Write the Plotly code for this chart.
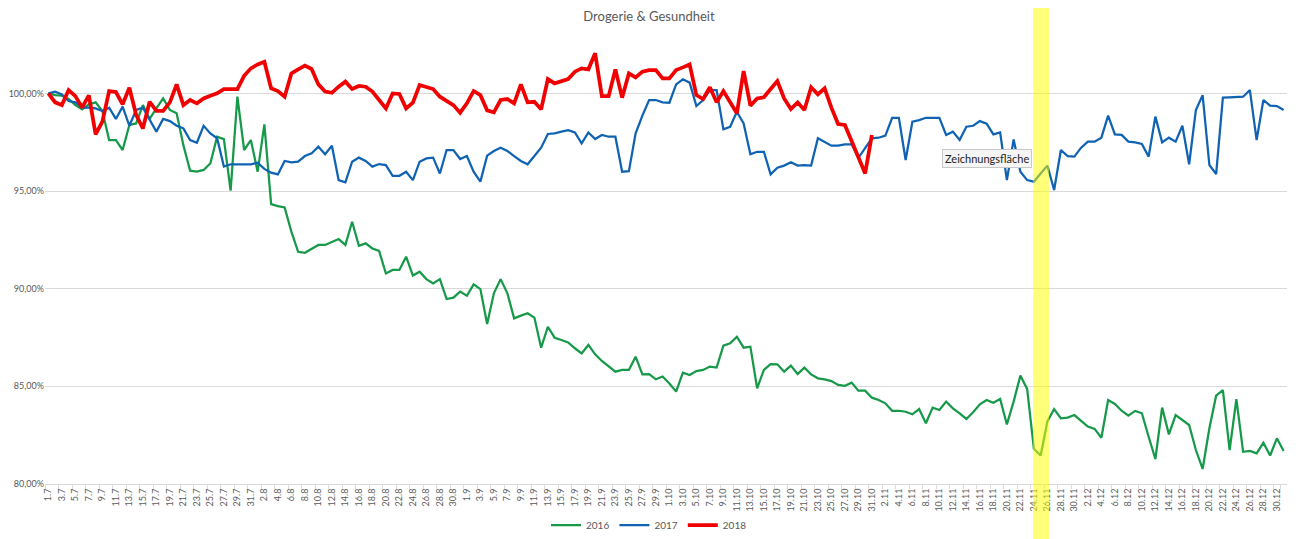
import plotly.graph_objects as go

# Categories: daily dates 1.7 - 31.12
months = [(7, 31), (8, 31), (9, 30), (10, 31), (11, 30), (12, 31)]
dates = [f"{d}.{m}" for m, n in months for d in range(1, n + 1)]

# Values in percent
v2016 = [
    100.0, 99.91, 99.88, 99.71, 99.4, 99.18, 99.44, 99.54, 99.1, 97.61, 97.61, 97.1, 98.38, 98.46, 99.4, 98.69,
    99.23, 99.74, 99.15, 98.98, 97.35, 96.04, 95.99, 96.08, 96.42, 97.78, 97.66, 95.02, 99.83, 97.1, 97.61,
    95.99, 98.41, 94.33, 94.23, 94.16, 92.92, 91.89, 91.84, 92.06, 92.24, 92.24, 92.41, 92.54, 92.24, 93.43,
    92.2, 92.32, 92.06, 91.93, 90.78, 90.96, 90.96, 91.64, 90.67, 90.87, 90.49, 90.27, 90.49, 89.47, 89.54,
    89.85, 89.64, 90.22, 89.98, 88.19, 89.76, 90.49, 89.76, 88.48, 88.62, 88.74, 88.52, 86.98, 88.05, 87.49,
    87.37, 87.25, 86.95, 86.69, 87.12, 86.64, 86.3, 86.01, 85.75, 85.84, 85.84, 86.52, 85.61, 85.63, 85.36, 85.5,
    85.15, 84.73, 85.7, 85.58, 85.78, 85.84, 86.01, 85.96, 87.08, 87.2, 87.54, 86.98, 87.03, 84.9, 85.84,
    86.14, 86.13, 85.75, 86.06, 85.63, 85.96, 85.61, 85.41, 85.36, 85.27, 85.07, 85.03, 85.19, 84.78, 84.78,
    84.42, 84.3, 84.13, 83.75, 83.75, 83.7, 83.57, 83.84, 83.11, 83.91, 83.79, 84.22, 83.87, 83.62, 83.33,
    83.67, 84.08, 84.3, 84.16, 84.35, 83.05, 84.22, 85.55, 84.87, 81.8, 81.46, 83.2, 83.84, 83.36, 83.4, 83.53,
    83.23, 82.94, 82.82, 82.37, 84.3, 84.1, 83.75, 83.5, 83.74, 83.62, 82.42, 81.28, 83.91, 82.54, 83.53,
    83.28, 83.02, 81.74, 80.77, 82.85, 84.52, 84.81, 81.74, 84.35, 81.65, 81.69, 81.57, 82.11, 81.46, 82.34, 81.69,
]

v2017 = [
    100.0, 100.09, 99.95, 99.61, 99.54, 99.27, 99.27, 99.23, 99.1, 99.27, 98.69, 99.32, 98.34, 99.15, 99.27,
    98.63, 98.04, 98.69, 98.58, 98.34, 98.21, 97.61, 97.47, 98.34, 97.95, 97.7, 96.25, 96.37, 96.37, 96.37, 96.37,
    96.45, 96.13, 95.94, 95.85, 96.54, 96.47, 96.5, 96.79, 96.93, 97.27, 96.88, 97.32, 95.56, 95.44, 96.5,
    96.71, 96.54, 96.25, 96.38, 96.33, 95.78, 95.78, 95.99, 95.56, 96.5, 96.67, 96.71, 95.9, 97.1, 97.1,
    96.64, 96.79, 95.99, 95.48, 96.81, 97.05, 97.22, 97.05, 96.79, 96.54, 96.37, 96.79, 97.22, 97.92, 97.95,
    98.04, 98.12, 98.0, 97.44, 98.0, 97.66, 97.87, 97.78, 97.78, 95.99, 96.02, 97.95, 98.86, 99.66, 99.66, 99.54,
    99.52, 100.46, 100.72, 100.55, 99.35, 99.66, 100.17, 100.17, 98.16, 98.29, 99.06, 98.46, 96.88, 97.01,
    97.01, 95.85, 96.19, 96.3, 96.47, 96.3, 96.33, 96.3, 97.7, 97.53, 97.32, 97.32, 97.39, 97.39, 96.7, 97.2,
    97.7, 97.73, 97.84, 98.75, 98.75, 96.59, 98.55, 98.63, 98.75, 98.75, 98.75, 97.87, 98.04, 97.61, 98.29,
    98.34, 98.58, 98.45, 97.9, 98.0, 95.56, 97.64, 95.99, 95.56, 95.48, 95.9, 96.3, 95.05, 97.1, 96.79, 96.76,
    97.22, 97.53, 97.53, 97.73, 98.86, 97.9, 97.87, 97.53, 97.49, 97.41, 96.76, 98.81, 97.49, 97.73, 97.53,
    98.34, 96.37, 99.15, 99.91, 96.33, 95.87, 99.78, 99.8, 99.83, 99.83, 100.17, 97.61, 99.66, 99.37, 99.35, 99.15,
]

v2018 = [
    100.0, 99.54, 99.4, 100.17, 99.86, 99.28, 99.9, 97.9, 98.55, 100.12, 100.07, 99.44, 100.29, 98.9, 98.2,
    99.57, 99.1, 99.1, 99.54, 100.46, 99.4, 99.66, 99.49, 99.74, 99.88, 100.0, 100.22, 100.22, 100.22, 100.9, 101.28,
    101.48, 101.62, 100.26, 100.12, 99.83, 101.02, 101.23, 101.42, 101.25, 100.46, 100.09, 100.03, 100.34,
    100.6, 100.22, 100.38, 100.34, 100.09, 99.66, 99.23, 100.0, 99.97, 99.23, 99.52, 100.43, 100.34, 100.22,
    99.83, 99.61, 99.4,
    99.01, 99.49, 100.12, 99.91, 99.13, 99.03, 99.66, 99.71, 99.49, 100.46, 99.54, 99.57, 99.18, 100.73,
    100.51, 100.6, 100.73, 101.11, 101.28, 101.23, 102.05, 99.86, 99.86, 101.23, 99.78, 101.02, 100.82,
    101.11, 101.19, 101.19, 100.77,
    100.77, 101.19, 101.33, 101.48, 99.91, 99.71, 100.31, 99.54, 100.12, 99.57, 98.98, 101.14, 99.37, 99.74,
    99.8, 100.22, 100.63, 99.74, 99.2, 99.54, 99.15, 100.31, 99.95, 100.26, 99.27, 98.43, 98.38, 97.56, 96.76,
    95.9, 97.87,
]

series_names = ["2016", "2017", "2018"]
y_ticks = [80, 85, 90, 95, 100]
y_ticktext = ["80,00%", "85,00%", "90,00%", "95,00%", "100,00%"]
title_text = "Drogerie & Gesundheit"
highlight = ("24.11", "26.11")

GRAY = "#595959"
FONT = "Lato, 'Open Sans', sans-serif"

# the page body adds an 8px margin, so the figure is 8px smaller than the window
W, H = 1291, 531
ML, MR, MT, MB = 37, 12, 17, 55
PH = H - MT - MB

fig = go.Figure()
fig.add_trace(go.Scatter(x=dates[:len(v2016)], y=v2016, mode="lines", name=series_names[0],
                         line=dict(color="#17994A", width=2.25)))
fig.add_trace(go.Scatter(x=dates[:len(v2017)], y=v2017, mode="lines", name=series_names[1],
                         line=dict(color="#1063B2", width=2.25)))
fig.add_trace(go.Scatter(x=dates[:len(v2018)], y=v2018, mode="lines", name=series_names[2],
                         line=dict(color="#F00000", width=3.75)))

# yellow highlight band (full height)
i0 = dates.index(highlight[0])
i1 = dates.index(highlight[1])
fig.add_shape(type="rect", xref="x", yref="paper", x0=i0 - 0.12, x1=i1 + 0.25,
              y0=-0.2, y1=1.1, fillcolor="rgba(255,255,0,0.52)", line=dict(width=0), layer="above")

# sheet edge line at right
fig.add_shape(type="line", xref="paper", yref="paper", x0=1.008, x1=1.008, y0=-0.2, y1=1.1,
              line=dict(color="#D4D4D4", width=1))

# tooltip box
fig.add_annotation(text="Zeichnungsfläche", xref="paper", yref="paper", x=0.7585, y=0.71,
                   xanchor="center", yanchor="middle",
                   showarrow=False, font=dict(family=FONT, size=11, color="#222222"),
                   bgcolor="#F5F5F5", bordercolor="#C8C8C8", borderwidth=1, borderpad=2)

fig.update_layout(
    width=W, height=H,
    margin=dict(l=ML, r=MR, t=MT, b=MB, autoexpand=False),
    paper_bgcolor="white", plot_bgcolor="white",
    font=dict(family=FONT, color=GRAY, size=9),
    title=dict(text=title_text, x=641 / W, xref="container", xanchor="center",
               y=1 - 4 / H, yref="container", yanchor="top",
               font=dict(family=FONT, size=13, color=GRAY)),
    showlegend=True,
    legend=dict(orientation="h", xref="paper", yref="paper", x=(641 - ML) / 1242, xanchor="center",
                y=-41 / PH, yanchor="middle", font=dict(family=FONT, size=10, color=GRAY),
                itemwidth=30, tracegroupgap=0),
    hovermode=False,
)

fig.update_xaxes(
    type="category", categoryorder="array", categoryarray=dates,
    range=[-0.5, len(dates) - 0.5], automargin=False,
    tickmode="array", tickvals=dates[::2], ticktext=dates[::2],
    tickangle=-90, tickfont=dict(family=FONT, size=9, color=GRAY),
    ticks="outside", ticklen=4, tickcolor="#D9D9D9", tickson="boundaries",
    showline=True, linecolor="#D9D9D9", linewidth=1, showgrid=False, zeroline=False,
)
fig.update_yaxes(
    range=[80, 103.5], tickmode="array", tickvals=y_ticks, ticktext=y_ticktext, automargin=False,
    tickfont=dict(family=FONT, size=9, color=GRAY),
    showgrid=True, gridcolor="#D9D9D9", gridwidth=1, zeroline=False, showline=False, ticks="",
)

fig.write_html("out.html")
